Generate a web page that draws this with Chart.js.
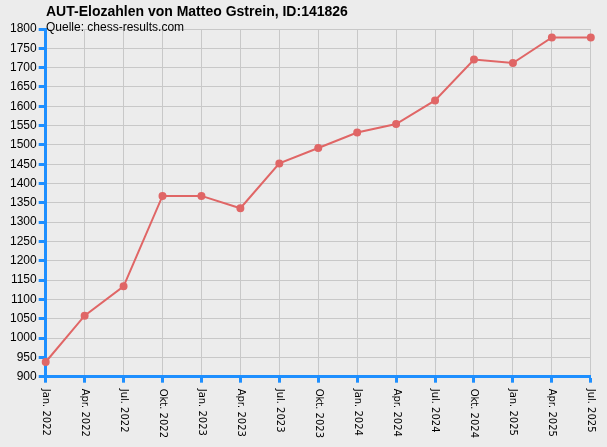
<!DOCTYPE html>
<html>
<head>
<meta charset="utf-8">
<script src="https://cdn.jsdelivr.net/npm/chart.js@4"></script>
<style>
html, body { margin: 0; padding: 0; background: #ececec; }
#wrap { width: 607px; height: 447px; }
</style>
</head>
<body>
<div id="wrap"><canvas id="c"></canvas></div>
<script>
const labels = ["Jan. 2022", "Apr. 2022", "Jul. 2022", "Okt. 2022", "Jan. 2023", "Apr. 2023", "Jul. 2023", "Okt. 2023",
    "Jan. 2024", "Apr. 2024", "Jul. 2024", "Okt. 2024", "Jan. 2025", "Apr. 2025", "Jul. 2025"];
const elo = [938, 1058, 1134, 1368, 1368, 1336, 1452, 1492, 1532, 1554, 1615, 1721, 1712, 1778, 1778];

const blue = "#1e8fff";

// titles and x labels reading top to bottom, starting at the tick
const extras = {
    id: "extras",
    afterDraw(chart) {
        const x = chart.scales.x;
        const ctx = chart.ctx;
        ctx.save();
        ctx.fillStyle = "#000";
        ctx.textBaseline = "alphabetic";
        ctx.textAlign = "left";
        ctx.font = "bold 14px Arial, 'Liberation Sans', sans-serif";
        ctx.fillText("AUT-Elozahlen von Matteo Gstrein, ID:141826", 46, 16);
        ctx.font = "12px Arial, 'Liberation Sans', sans-serif";
        ctx.fillText("Quelle: chess-results.com", 46, 31);
        ctx.font = "10px 'DejaVu Sans', sans-serif";
        ctx.textBaseline = "middle";
        x.ticks.forEach((t, i) => {
            const px = x.getPixelForTick(i);
            ctx.save();
            ctx.translate(px, x.top + 12);
            ctx.rotate(Math.PI / 2);
            ctx.fillText(labels[i], 0, 0);
            ctx.restore();
        });
        ctx.restore();
    }
};

new Chart(document.getElementById("c"), {
    type: "line",
    data: {
        labels: labels,
        datasets: [{
            data: elo,
            borderColor: "#e06666",
            backgroundColor: "#e06666",
            borderWidth: 2,
            pointRadius: 3,
            tension: 0
        }]
    },
    options: {
        responsive: true,
        maintainAspectRatio: false,
        animation: false,
        layout: { padding: { left: 8, right: 9, top: 29, bottom: 10 } },
        plugins: {
            legend: { display: false },
            tooltip: { enabled: false }
        },
        scales: {
            x: {
                offset: false,
                border: { color: blue, width: 3 },
                grid: { color: "#c8c8c8", tickColor: blue, tickLength: 6, tickWidth: 3 },
                ticks: {
                    color: "rgba(0,0,0,0)",
                    minRotation: 90,
                    maxRotation: 90,
                    autoSkip: false,
                    font: { size: 11 }
                }
            },
            y: {
                min: 900,
                max: 1800,
                border: { color: blue, width: 3 },
                grid: { color: "#c8c8c8", tickColor: blue, tickLength: 7, tickWidth: 3 },
                ticks: {
                    stepSize: 50,
                    color: "#000",
                    padding: 2,
                    callback: v => String(v),
                    font: { family: "Arial, 'Liberation Sans', sans-serif", size: 12 }
                }
            }
        }
    },
    plugins: [extras]
});
</script>
</body>
</html>
